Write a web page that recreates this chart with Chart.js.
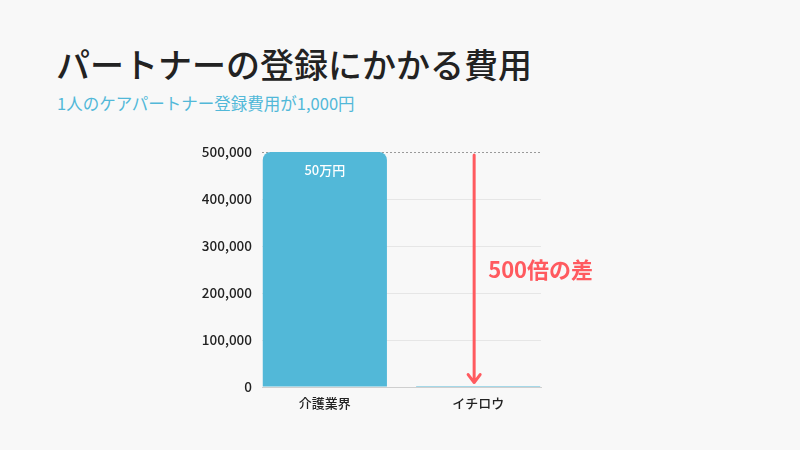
<!DOCTYPE html>
<html>
<head>
<meta charset="utf-8">
<script src="https://cdn.jsdelivr.net/npm/chart.js@4"></script>
<style>
  html, body { margin: 0; padding: 0; background: #f8f8f8; }
  #wrap { position: relative; width: 800px; height: 450px; font-family: "Noto Sans CJK JP", "Noto Sans", sans-serif; }
  #title { position: absolute; left: 56px; top: 40px; font-size: 34px; color: #222; line-height: 48px; font-weight: 500; }
  #subtitle { position: absolute; left: 57px; top: 92px; font-size: 16.5px; color: #52b8d8; line-height: 22px; }
  canvas { position: absolute; left: 0; top: 0; }
</style>
</head>
<body>
<div id="wrap">
  <div id="title">パートナーの登録にかかる費用</div>
  <div id="subtitle">1人のケアパートナー登録費用が1,000円</div>
  <canvas id="chart" width="800" height="450"></canvas>
</div>
<script>
const CATEGORIES = ['介護業界', 'イチロウ'];
const COSTS = [500000, 1000];
const BAR_LABELS = ['50万円', ''];
const Y_TICKS = [0, 100000, 200000, 300000, 400000, 500000];
const GAP_TEXT = '500倍の差';

const FONT = '"Noto Sans CJK JP", "Noto Sans", sans-serif';
const RED = '#ff5a5f';

// labels inside bars + arrow showing the gap
const annotations = {
  id: 'annotations',
  afterDatasetsDraw(chart) {
    const { ctx, scales: { y } } = chart;
    const bars = chart.getDatasetMeta(0).data;

    ctx.save();
    ctx.fillStyle = '#fff';
    ctx.font = '500 13px ' + FONT;
    ctx.textAlign = 'center';
    ctx.textBaseline = 'middle';
    bars.forEach((bar, i) => {
      if (BAR_LABELS[i]) ctx.fillText(BAR_LABELS[i], bar.x, bar.y + 18);
    });

    const ax = bars[1].x - 4;
    const top = y.getPixelForValue(COSTS[0]) + 3;
    const bottom = y.getPixelForValue(COSTS[1]) - 4;
    ctx.strokeStyle = RED;
    ctx.lineWidth = 3;
    ctx.lineCap = 'round';
    ctx.lineJoin = 'round';
    ctx.beginPath();
    ctx.moveTo(ax, top);
    ctx.lineTo(ax, bottom);
    ctx.moveTo(ax - 6, bottom - 8);
    ctx.lineTo(ax, bottom);
    ctx.lineTo(ax + 6, bottom - 8);
    ctx.stroke();

    ctx.fillStyle = RED;
    ctx.font = 'bold 22px ' + FONT;
    ctx.textAlign = 'left';
    ctx.fillText(GAP_TEXT, ax + 14, (top + bottom) / 2 + 1);
    ctx.restore();
  }
};

new Chart(document.getElementById('chart'), {
  type: 'bar',
  data: {
    datasets: [{
      data: COSTS.map((v, i) => ({ x: i, y: v })),
      backgroundColor: '#52b8d8',
      borderRadius: { topLeft: 8, topRight: 8 },
      borderSkipped: 'bottom',
      barPercentage: 0.9,
      categoryPercentage: 0.9,
      minBarLength: 1
    }]
  },
  options: {
    responsive: false,
    animation: false,
    events: [],
    layout: { padding: { left: 180, right: 259, top: 152, bottom: 0 } },
    plugins: { legend: { display: false }, tooltip: { enabled: false } },
    scales: {
      x: {
        type: 'linear',
        offset: false,
        min: -0.41,
        max: 1.41,
        afterBuildTicks: s => { s.ticks = CATEGORIES.map((_, i) => ({ value: i })); },
        afterFit: s => { s.height = 63; },
        grid: { display: false, drawTicks: false, offset: false },
        border: { display: true, color: '#cfcfcf' },
        ticks: {
          callback: v => CATEGORIES[v],
          color: '#222',
          padding: 8,
          font: { family: FONT, size: 13, weight: 500 }
        }
      },
      y: {
        min: 0,
        max: 500000,
        afterBuildTicks: s => { s.ticks = Y_TICKS.map(v => ({ value: v })); },
        afterFit: s => { s.width = 82; },
        grid: {
          drawTicks: false,
          color: c => c.tick && c.tick.value === 500000 ? '#9a9a9a' : '#e6e6e6'
        },
        border: {
          display: false,
          dash: c => c.tick && c.tick.value === 500000 ? [2, 2] : []
        },
        ticks: {
          color: '#222',
          padding: 10,
          font: { family: FONT, size: 13.5, weight: 500 },
          callback: v => v.toLocaleString('en-US')
        }
      }
    }
  },
  plugins: [annotations]
});
</script>
</body>
</html>
